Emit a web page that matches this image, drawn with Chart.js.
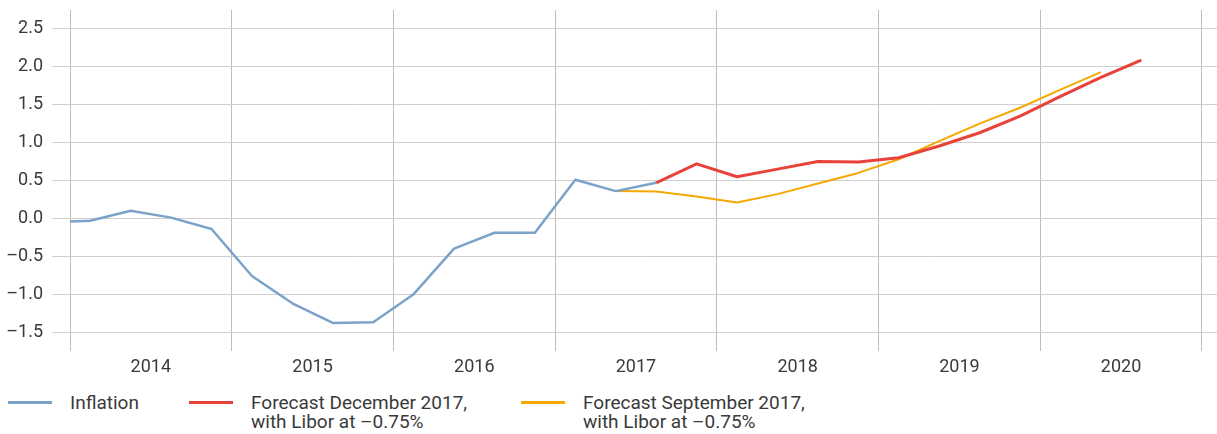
<!DOCTYPE html>
<html>
<head>
<meta charset="utf-8">
<script src="https://cdn.jsdelivr.net/npm/chart.js@4.4.1/dist/chart.umd.min.js"></script>
<style>
  body { margin: 0; background: #fff; }
  #wrap { position: relative; width: 1217px; height: 434px; font-family: Roboto, 'Liberation Sans', sans-serif; color: #3a3a3a; }
  #chart { position: absolute; left: 0; top: 0; }
  .swatch { position: absolute; height: 3px; width: 44px; top: 401px; }
  .ltext { position: absolute; top: 393px; font-size: 19px; line-height: 19px; white-space: pre-line; }
</style>
</head>
<body>
<div id="wrap">
  <canvas id="chart" width="1217" height="380"></canvas>
  <div id="legend"></div>
</div>
<script>
// data, quarterly points
const yearLabels = ['2014', '2015', '2016', '2017', '2018', '2019', '2020'];
const yTicks = [-1.5, -1.0, -0.5, 0.0, 0.5, 1.0, 1.5, 2.0, 2.5];

const inflationQuarters = ['2013Q4', '2014Q1', '2014Q2', '2014Q3', '2014Q4', '2015Q1', '2015Q2', '2015Q3', '2015Q4',
  '2016Q1', '2016Q2', '2016Q3', '2016Q4', '2017Q1', '2017Q2', '2017Q3'];
const inflationValues = [-0.05, -0.03, 0.10, 0.01, -0.14, -0.76, -1.12, -1.38, -1.37,
  -1.00, -0.40, -0.19, -0.19, 0.51, 0.36, 0.47];

const decQuarters = ['2017Q3', '2017Q4', '2018Q1', '2018Q2', '2018Q3', '2018Q4', '2019Q1', '2019Q2', '2019Q3',
  '2019Q4', '2020Q1', '2020Q2', '2020Q3'];
const decValues = [0.47, 0.72, 0.55, 0.65, 0.75, 0.745, 0.80, 0.955, 1.13, 1.35, 1.61, 1.86, 2.09];

const sepQuarters = ['2017Q2', '2017Q3', '2017Q4', '2018Q1', '2018Q2', '2018Q3', '2018Q4', '2019Q1', '2019Q2',
  '2019Q3', '2019Q4', '2020Q1', '2020Q2'];
const sepValues = [0.36, 0.355, 0.29, 0.21, 0.32, 0.46, 0.60, 0.78, 1.02, 1.25, 1.46, 1.70, 1.93];

// "2015Q3" -> middle of that quarter in years
function qx(q) {
  const year = parseInt(q.slice(0, 4));
  const n = parseInt(q.slice(5));
  return year + (n - 0.5) / 4;
}
const toPoints = (qs, vals) => qs.map((q, i) => ({ x: qx(q), y: vals[i] }));

const FONT = { family: "Roboto, 'Liberation Sans', sans-serif", size: 18 };

const chart = new Chart(document.getElementById('chart'), {
  type: 'line',
  data: {
    datasets: [
      {
        label: 'Inflation',
        data: toPoints(inflationQuarters, inflationValues),
        borderColor: '#7ba3c9',
        borderWidth: 2.5,
        pointRadius: 0,
        tension: 0,
        borderJoinStyle: 'round'
      },
      {
        label: 'Forecast December 2017,\nwith Libor at \u20130.75%',
        data: toPoints(decQuarters, decValues),
        borderColor: '#e8433b',
        borderWidth: 3,
        pointRadius: 0,
        tension: 0,
        borderJoinStyle: 'round'
      },
      {
        label: 'Forecast September 2017,\nwith Libor at \u20130.75%',
        data: toPoints(sepQuarters, sepValues),
        borderColor: '#f5a800',
        borderWidth: 2,
        pointRadius: 0,
        tension: 0,
        borderJoinStyle: 'round'
      }
    ]
  },
  options: {
    responsive: false,
    animation: false,
    devicePixelRatio: 1,
    layout: { padding: { top: 10, right: 0, left: 0, bottom: 0 } },
    plugins: { legend: { display: false }, tooltip: { enabled: false } },
    scales: {
      x: {
        type: 'linear',
        min: 2014,
        max: 2021.093,
        border: { display: false },
        afterBuildTicks: (axis) => {
          const t = [];
          for (let i = 0; i <= yearLabels.length; i++) {
            t.push({ value: 2014 + i });
            if (i < yearLabels.length) t.push({ value: 2014 + i + 0.5 });
          }
          axis.ticks = t;
        },
        afterFit: (scale) => { scale.height = 29; },
        grid: {
          drawTicks: false,
          color: (ctx) => (ctx.tick && Number.isInteger(ctx.tick.value)) ? '#bdbdbd' : 'rgba(0,0,0,0)',
          lineWidth: 1
        },
        ticks: {
          autoSkip: false,
          maxRotation: 0,
          padding: 6,
          color: '#3a3a3a',
          font: FONT,
          callback: (v) => Number.isInteger(v) ? '' : yearLabels[Math.floor(v) - 2014]
        }
      },
      y: {
        min: -1.75,
        max: 2.75,
        border: { display: false },
        afterBuildTicks: (axis) => { axis.ticks = yTicks.map(v => ({ value: v })); },
        afterFit: (scale) => {
          scale.width = 70;
          scale.paddingTop = 0;
          scale.paddingBottom = 0;
        },
        grid: { color: '#cfcfcf', tickLength: 18, lineWidth: 1 },
        ticks: {
          padding: 9,
          color: '#3a3a3a',
          font: FONT,
          callback: (v) => v.toFixed(1).replace('-', '\u2013')
        }
      }
    }
  }
});

// legend under the chart, built from the datasets
const legendPos = [[8, 70], [189, 251], [521, 583]];
const legend = document.getElementById('legend');
chart.data.datasets.forEach((ds, i) => {
  const sw = document.createElement('div');
  sw.className = 'swatch';
  sw.style.left = legendPos[i][0] + 'px';
  sw.style.background = ds.borderColor;
  legend.appendChild(sw);
  const tx = document.createElement('div');
  tx.className = 'ltext';
  tx.style.left = legendPos[i][1] + 'px';
  tx.textContent = ds.label;
  legend.appendChild(tx);
});
</script>
</body>
</html>
